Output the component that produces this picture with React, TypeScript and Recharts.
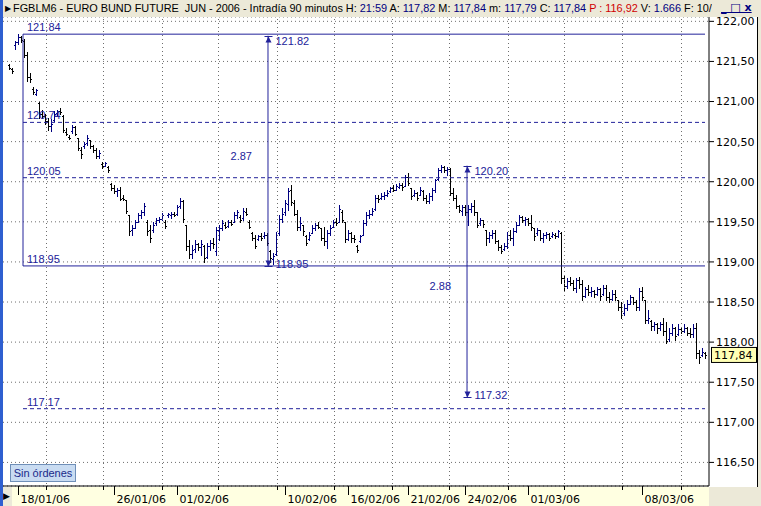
import React from 'react';
import {
  ComposedChart,
  Bar,
  XAxis,
  YAxis,
  CartesianGrid,
  ReferenceLine,
  ReferenceDot,
} from 'recharts';

type Ohlc = [number, number, number, number]; // open, high, low, close

// 90-minute bars, one array per labelled session block
const jan17: Ohlc[] = [
  [121.45, 121.47, 121.4, 121.42], [121.41, 121.42, 121.36, 121.38], [121.7, 121.76, 121.66, 121.74],
];
const jan18: Ohlc[] = [
  [121.74, 121.84, 121.72, 121.8], [121.8, 121.82, 121.74, 121.77], [121.76, 121.78, 121.55, 121.58],
  [121.58, 121.62, 121.26, 121.3], [121.3, 121.35, 121.24, 121.28], [121.16, 121.18, 121.09, 121.12],
  [121.1, 121.16, 121.08, 121.14], [120.98, 120.99, 120.8, 120.84], [120.84, 120.9, 120.79, 120.82],
  [120.82, 120.85, 120.72, 120.76], [120.76, 120.8, 120.65, 120.7], [120.7, 120.78, 120.63, 120.72],
  [120.77, 120.88, 120.76, 120.84], [120.86, 120.9, 120.83, 120.88], [120.88, 120.92, 120.85, 120.87],
  [120.82, 120.83, 120.62, 120.64], [120.62, 120.67, 120.58, 120.6], [120.56, 120.58, 120.53, 120.55],
  [120.63, 120.71, 120.61, 120.68], [120.68, 120.7, 120.58, 120.6], [120.54, 120.55, 120.4, 120.42],
  [120.4, 120.43, 120.3, 120.34], [120.44, 120.49, 120.42, 120.47], [120.48, 120.58, 120.46, 120.55],
  [120.52, 120.52, 120.42, 120.44], [120.44, 120.46, 120.37, 120.4], [120.4, 120.42, 120.3, 120.32],
  [120.32, 120.39, 120.29, 120.36], [120.22, 120.25, 120.17, 120.2], [120.2, 120.24, 120.19, 120.23],
  [120.18, 120.19, 120.12, 120.14], [119.97, 119.98, 119.9, 119.92],
];
const jan26: Ohlc[] = [
  [119.92, 119.96, 119.86, 119.88], [119.88, 119.92, 119.82, 119.9], [119.9, 119.93, 119.77, 119.79],
  [119.8, 119.83, 119.77, 119.78], [119.77, 119.77, 119.61, 119.64], [119.58, 119.58, 119.34, 119.38],
  [119.4, 119.46, 119.34, 119.42], [119.42, 119.52, 119.42, 119.5], [119.5, 119.61, 119.5, 119.58],
  [119.58, 119.65, 119.55, 119.62], [119.62, 119.74, 119.58, 119.7], [119.5, 119.52, 119.34, 119.38],
  [119.4, 119.46, 119.25, 119.3], [119.4, 119.5, 119.37, 119.46], [119.48, 119.55, 119.46, 119.52],
  [119.52, 119.56, 119.5, 119.54], [119.54, 119.61, 119.52, 119.58], [119.5, 119.52, 119.42, 119.45],
  [119.58, 119.61, 119.56, 119.6], [119.58, 119.62, 119.55, 119.6], [119.6, 119.62, 119.57, 119.59],
];
const feb01: Ohlc[] = [
  [119.6, 119.71, 119.58, 119.68], [119.7, 119.8, 119.67, 119.76], [119.76, 119.77, 119.5, 119.54],
  [119.46, 119.46, 119.15, 119.2], [119.2, 119.27, 119.05, 119.1], [119.1, 119.21, 119.05, 119.15],
  [119.16, 119.27, 119.12, 119.22], [119.22, 119.24, 119.15, 119.18], [119.18, 119.27, 119.09, 119.22],
  [119.2, 119.21, 119.0, 119.05], [119.06, 119.24, 119.05, 119.2], [119.2, 119.27, 119.15, 119.24],
  [119.24, 119.3, 119.17, 119.22], [119.14, 119.44, 119.09, 119.4], [119.4, 119.46, 119.27, 119.42],
  [119.42, 119.52, 119.4, 119.48], [119.46, 119.5, 119.42, 119.44], [119.45, 119.52, 119.44, 119.5],
  [119.5, 119.52, 119.46, 119.47], [119.5, 119.62, 119.5, 119.58], [119.58, 119.65, 119.55, 119.62],
  [119.56, 119.58, 119.5, 119.52], [119.55, 119.67, 119.52, 119.64], [119.62, 119.67, 119.58, 119.6],
  [119.5, 119.52, 119.42, 119.44], [119.36, 119.37, 119.27, 119.3], [119.3, 119.34, 119.17, 119.2],
  [119.28, 119.34, 119.27, 119.32], [119.32, 119.36, 119.27, 119.3], [119.32, 119.37, 119.3, 119.34],
  [119.34, 119.36, 119.21, 119.24], [119.14, 119.15, 119.0, 119.05], [119.04, 119.11, 118.98, 119.08],
  [119.1, 119.37, 119.09, 119.34], [119.36, 119.58, 119.34, 119.54], [119.54, 119.67, 119.5, 119.6],
];
const feb10: Ohlc[] = [
  [119.62, 119.77, 119.58, 119.74], [119.72, 119.92, 119.65, 119.88], [119.9, 119.96, 119.71, 119.75],
  [119.74, 119.77, 119.58, 119.6], [119.6, 119.65, 119.4, 119.44], [119.44, 119.56, 119.4, 119.48],
  [119.46, 119.46, 119.34, 119.38], [119.32, 119.34, 119.21, 119.24], [119.28, 119.37, 119.27, 119.34],
  [119.36, 119.46, 119.36, 119.42], [119.42, 119.48, 119.4, 119.46], [119.46, 119.5, 119.42, 119.44],
  [119.42, 119.42, 119.27, 119.3], [119.3, 119.44, 119.21, 119.26], [119.26, 119.4, 119.17, 119.36],
  [119.36, 119.46, 119.34, 119.42], [119.44, 119.52, 119.43, 119.5], [119.5, 119.55, 119.46, 119.48],
  [119.5, 119.71, 119.5, 119.66], [119.62, 119.65, 119.5, 119.52], [119.5, 119.5, 119.25, 119.28],
];
const feb16: Ohlc[] = [
  [119.28, 119.4, 119.27, 119.36], [119.36, 119.37, 119.25, 119.3], [119.3, 119.34, 119.25, 119.28],
  [119.2, 119.21, 119.12, 119.15], [119.26, 119.34, 119.25, 119.32], [119.34, 119.52, 119.34, 119.48],
  [119.48, 119.62, 119.46, 119.58], [119.58, 119.65, 119.55, 119.6], [119.6, 119.67, 119.58, 119.64],
  [119.66, 119.83, 119.65, 119.8], [119.8, 119.83, 119.75, 119.78], [119.8, 119.86, 119.79, 119.82],
  [119.82, 119.87, 119.79, 119.84], [119.84, 119.9, 119.82, 119.86], [119.88, 119.94, 119.87, 119.92],
  [119.92, 119.96, 119.89, 119.9], [119.9, 119.97, 119.9, 119.95], [119.94, 119.99, 119.92, 119.96],
  [119.96, 119.99, 119.9, 119.93], [119.95, 120.08, 119.95, 120.06],
];
const feb21: Ohlc[] = [
  [120.06, 120.11, 119.96, 119.98], [119.92, 119.92, 119.79, 119.82], [119.84, 119.9, 119.82, 119.86],
  [119.86, 119.87, 119.77, 119.8], [119.84, 119.93, 119.83, 119.9], [119.88, 119.9, 119.77, 119.8],
  [119.8, 119.83, 119.73, 119.76], [119.76, 119.86, 119.73, 119.82], [119.82, 119.92, 119.77, 119.9],
  [119.9, 120.04, 119.87, 120.02], [120.04, 120.17, 120.02, 120.14], [120.14, 120.21, 120.12, 120.18],
  [120.18, 120.19, 120.12, 120.15], [120.14, 120.18, 120.08, 120.16], [120.16, 120.17, 119.83, 119.86],
  [119.86, 119.92, 119.77, 119.8], [119.8, 119.83, 119.67, 119.7], [119.7, 119.71, 119.62, 119.65],
  [119.64, 119.71, 119.58, 119.68],
];
const feb24: Ohlc[] = [
  [119.68, 119.71, 119.58, 119.62], [119.62, 119.71, 119.46, 119.66], [119.66, 119.74, 119.62, 119.7],
  [119.7, 119.77, 119.58, 119.62], [119.62, 119.62, 119.43, 119.46], [119.48, 119.55, 119.46, 119.52],
  [119.52, 119.52, 119.44, 119.47], [119.4, 119.4, 119.21, 119.3], [119.3, 119.37, 119.25, 119.34],
  [119.34, 119.4, 119.3, 119.36], [119.36, 119.4, 119.23, 119.26], [119.26, 119.27, 119.15, 119.18],
  [119.18, 119.21, 119.11, 119.14], [119.16, 119.24, 119.15, 119.2], [119.2, 119.37, 119.17, 119.34],
  [119.34, 119.4, 119.27, 119.3], [119.3, 119.42, 119.21, 119.38], [119.38, 119.5, 119.37, 119.46],
  [119.46, 119.58, 119.46, 119.56], [119.56, 119.57, 119.5, 119.52], [119.52, 119.56, 119.46, 119.54],
];
const mar01: Ohlc[] = [
  [119.54, 119.55, 119.46, 119.48], [119.48, 119.58, 119.4, 119.44], [119.42, 119.42, 119.27, 119.32],
  [119.36, 119.42, 119.34, 119.4], [119.4, 119.4, 119.27, 119.3], [119.3, 119.36, 119.25, 119.33],
  [119.33, 119.37, 119.3, 119.35], [119.35, 119.36, 119.27, 119.3], [119.32, 119.37, 119.31, 119.35],
  [119.34, 119.36, 119.3, 119.32], [119.32, 119.4, 119.31, 119.38], [119.36, 119.37, 118.74, 118.8],
  [118.8, 118.84, 118.65, 118.7], [118.7, 118.8, 118.68, 118.76], [118.76, 118.81, 118.71, 118.74],
  [118.74, 118.78, 118.65, 118.68], [118.68, 118.8, 118.62, 118.78], [118.78, 118.81, 118.68, 118.72],
  [118.72, 118.78, 118.53, 118.58], [118.58, 118.69, 118.56, 118.66], [118.66, 118.71, 118.59, 118.62],
  [118.62, 118.69, 118.57, 118.64], [118.64, 118.65, 118.56, 118.6], [118.6, 118.69, 118.59, 118.66],
  [118.66, 118.68, 118.53, 118.58], [118.6, 118.71, 118.59, 118.68], [118.68, 118.71, 118.53, 118.56],
  [118.56, 118.62, 118.5, 118.54], [118.54, 118.65, 118.53, 118.6], [118.6, 118.65, 118.53, 118.56],
  [118.52, 118.53, 118.4, 118.44], [118.44, 118.5, 118.3, 118.34], [118.36, 118.47, 118.34, 118.42],
  [118.42, 118.53, 118.4, 118.48], [118.48, 118.59, 118.47, 118.56], [118.56, 118.56, 118.47, 118.5],
  [118.5, 118.53, 118.4, 118.44], [118.44, 118.68, 118.4, 118.64],
];
const mar08: Ohlc[] = [
  [118.64, 118.69, 118.53, 118.56], [118.52, 118.53, 118.24, 118.28], [118.28, 118.4, 118.24, 118.3],
  [118.26, 118.28, 118.15, 118.2], [118.2, 118.25, 118.15, 118.22], [118.22, 118.24, 118.11, 118.18],
  [118.18, 118.25, 118.15, 118.22], [118.22, 118.3, 118.09, 118.14], [118.14, 118.25, 117.99, 118.02],
  [118.04, 118.17, 118.02, 118.12], [118.12, 118.22, 118.09, 118.18], [118.18, 118.19, 118.03, 118.08],
  [118.1, 118.22, 118.09, 118.16], [118.16, 118.19, 118.11, 118.14], [118.14, 118.22, 118.13, 118.18],
  [118.18, 118.19, 118.09, 118.12], [118.12, 118.17, 118.06, 118.1], [118.1, 118.22, 118.06, 118.18],
  [118.18, 118.24, 117.8, 117.86], [117.86, 117.9, 117.74, 117.82], [117.84, 117.93, 117.83, 117.88],
  [117.86, 117.88, 117.8, 117.84],
];

const sessions = [jan17, jan18, jan26, feb01, feb10, feb16, feb21, feb24, mar01, mar08];
const sessionLabels = ['', '18/01/06', '26/01/06', '01/02/06', '10/02/06', '16/02/06', '21/02/06', '24/02/06', '01/03/06', '08/03/06'];

const priceTicks = [116.5, 117, 117.5, 118, 118.5, 119, 119.5, 120, 120.5, 121, 121.5, 122];
// dotted vertical grid, in bar-index units
const gridIdx = [12.5, 31.5, 51.17, 69.83, 89.5, 108.5, 127.83, 146.83, 166.5, 185.17, 204.5, 224.17];

// drawn study lines
const levelValues = [121.84, 120.74, 120.05, 118.95, 117.17];
const levelSolid = [true, false, false, true, false];
const boxStart = 4.67;
const boxEnd = 232;

const arrowIdx = [86.33, 152.67];
const arrowTop = [121.82, 120.2];
const arrowBottom = [118.95, 117.32];
const arrowDiff = ['2.87', '2.88'];

const NAVY = '#22229a';
const GRID = '#6e6e6e';
const X_DOMAIN: [number, number] = [-2, 233.33];
const Y_DOMAIN: [number, number] = [116.206, 122.054];

const bars = sessions.flat().map(([o, h, l, c], i) => ({ i, o, h, l, c, range: [l, h] }));
const sessionStarts = sessions.map((_, k) =>
  sessions.slice(0, k).reduce((s, a) => s + a.length, 0),
);
const dateTicks = sessionStarts.filter((_, k) => sessionLabels[k] !== '');
const labelByTick = new Map(sessionStarts.map((s, k) => [s, sessionLabels[k]]));
const allTicks = [...dateTicks, ...gridIdx].sort((a, b) => a - b);
const lastClose = bars[bars.length - 1].c;

const fmtComma = (v: number) => v.toFixed(2).replace('.', ',');

const OhlcBar = (props: any) => {
  const { x, y, width, height, payload } = props;
  if (x == null || y == null || !payload) return null;
  const cx = Math.round(x + width / 2) + 0.5;
  const top = Math.min(y, y + height);
  const span = Math.abs(height);
  const k = payload.h > payload.l ? span / (payload.h - payload.l) : 0;
  const yo = Math.round(top + (payload.h - payload.o) * k) + 0.5;
  const yc = Math.round(top + (payload.h - payload.c) * k) + 0.5;
  const color = payload.c >= payload.o ? '#000080' : '#000000';
  return (
    <g stroke={color} strokeWidth={1}>
      <line x1={cx} y1={Math.round(top)} x2={cx} y2={Math.round(top + Math.max(span, 1)) + 1} />
      <line x1={cx - 1.5} y1={yo} x2={cx} y2={yo} />
      <line x1={cx} y1={yc} x2={cx + 1.5} y2={yc} />
    </g>
  );
};

// vertical dotted grid line through a scaled x position: a column of 1px dots
const GridMark = (p: any) => {
  const px = Math.floor(p.cx);
  const top = Math.ceil(p.cy);
  const dots = [];
  for (let yy = top + 2; yy < 486; yy += 4) {
    dots.push(<rect key={yy} x={px} y={yy} width={1} height={1} fill={GRID} />);
  }
  return <g>{dots}</g>;
};

const DateTick = (props: any) => {
  const { x, y, payload } = props;
  const label = labelByTick.get(payload.value);
  const px = Math.floor(x) + 0.5;
  if (!label) {
    return <line x1={px} y1={y} x2={px} y2={y + 4} stroke="#000" />;
  }
  return (
    <g>
      <line x1={px} y1={y} x2={px} y2={y + 9} stroke="#000" />
      <text x={px + 2} y={y + 17} fontSize={11} fill="#000" fontFamily="DejaVu Sans">
        {label}
      </text>
    </g>
  );
};

const levelTag = (text: string) => (p: any) => (
  <text x={p.cx + 4} y={p.cy - 3} fontSize={11} fill={NAVY} fontFamily="Liberation Sans">
    {text}
  </text>
);

const arrowEnd = (up: boolean, text: string) => (p: any) => {
  const cx = Math.round(p.cx) + 0.5;
  const cy = Math.round(p.cy) + 0.5;
  const d = up ? 6 : -6;
  return (
    <g>
      <line x1={cx - 4} y1={cy} x2={cx + 4} y2={cy} stroke={NAVY} />
      <path d={`M${cx},${cy} L${cx - 3},${cy + d} L${cx + 3},${cy + d} Z`} fill={NAVY} />
      <text x={cx + 7} y={up ? cy + 8 : cy + 1} fontSize={11} fill={NAVY} fontFamily="Liberation Sans">
        {text}
      </text>
    </g>
  );
};

const diffTag = (text: string) => (p: any) => (
  <text x={p.cx - 16} y={p.cy + 9} textAnchor="end" fontSize={11} fill={NAVY} fontFamily="Liberation Sans">
    {text}
  </text>
);

const priceTag = (p: any) => (
  <g>
    <rect x={p.cx + 2.5} y={p.cy - 7.5} width={45} height={15} fill="#ffffb4" stroke="#000" />
    <text x={p.cx + 5} y={p.cy + 4} fontSize={11} fill="#000" fontFamily="DejaVu Sans">
      {fmtComma(lastClose)}
    </text>
  </g>
);

const titleParts: [string, string][] = [
  ['FGBLM6 - EURO BUND FUTURE  JUN - 2006 - Intradía 90 minutos H: ', '#000'],
  ['21:59', '#000080'],
  [' A: ', '#000'],
  ['117,82', '#000080'],
  [' M: ', '#000'],
  ['117,84', '#000080'],
  [' m: ', '#000'],
  ['117,79', '#000080'],
  [' C: ', '#000'],
  ['117,84', '#000080'],
  [' P : 116,92', '#d00000'],
  [' V: ', '#000'],
  ['1.666', '#000080'],
  [' F: 10/', '#000'],
];

export default function App() {
  return (
    <div
      style={{
        position: 'absolute',
        left: 0,
        top: 0,
        width: 761,
        height: 506,
        overflow: 'hidden',
        background: '#ece9d8',
        fontFamily: '"DejaVu Sans", sans-serif',
      }}
    >
      <div style={{ position: 'absolute', left: 3, top: 17, width: 754, height: 470, background: '#fff' }} />
      <div style={{ position: 'absolute', left: 757, top: 17, width: 1, height: 470, background: '#000' }} />
      <div style={{ position: 'absolute', left: 12, top: 487, width: 697, height: 19, background: '#ffffe1' }} />
      <div
        style={{
          position: 'absolute',
          left: 3,
          top: 489,
          width: 8,
          height: 14,
          fontSize: 9,
          lineHeight: '14px',
          color: '#000',
        }}
      >
        ▶
      </div>

      <div style={{ position: 'absolute', left: 0, top: 0 }}>
        <ComposedChart
          width={761}
          height={506}
          data={bars}
          margin={{ top: 17, right: 4, bottom: 0, left: 3 }}
        >
          <CartesianGrid vertical={false} stroke={GRID} strokeDasharray="1 3" />
          {gridIdx.map((g) => (
            <ReferenceDot key={`g${g}`} x={g} y={Y_DOMAIN[1]} r={1} ifOverflow="visible" shape={GridMark} />
          ))}
          <XAxis
            type="number"
            dataKey="i"
            domain={X_DOMAIN}
            allowDataOverflow
            ticks={allTicks}
            interval={0}
            tickSize={0}
            tickMargin={0}
            tickLine={false}
            tick={<DateTick />}
            height={20}
            axisLine={{ stroke: '#000' }}
          />
          <YAxis
            orientation="right"
            type="number"
            domain={Y_DOMAIN}
            allowDataOverflow
            ticks={priceTicks}
            interval={0}
            width={48}
            tickSize={5}
            tickMargin={2}
            tickFormatter={fmtComma}
            tick={{ fill: '#000', fontSize: 11, fontFamily: 'DejaVu Sans' }}
            tickLine={{ stroke: '#000' }}
            axisLine={{ stroke: '#000' }}
          />
          <Bar dataKey="range" barSize={3} shape={<OhlcBar />} isAnimationActive={false} />

          {levelValues.map((v, k) => (
            <ReferenceLine
              key={`lv${v}`}
              segment={[
                { x: boxStart, y: v },
                { x: boxEnd, y: v },
              ]}
              stroke={NAVY}
              strokeDasharray={levelSolid[k] ? undefined : '4 3'}
            />
          ))}
          <ReferenceLine
            segment={[
              { x: boxStart, y: levelValues[0] },
              { x: boxStart, y: levelValues[3] },
            ]}
            stroke={NAVY}
          />
          {levelValues.map((v) => (
            <ReferenceDot key={`lt${v}`} x={boxStart} y={v} r={1} shape={levelTag(v.toFixed(2))} />
          ))}

          {arrowIdx.map((a, k) => (
            <ReferenceLine
              key={`ar${k}`}
              segment={[
                { x: a, y: arrowTop[k] },
                { x: a, y: arrowBottom[k] },
              ]}
              stroke={NAVY}
            />
          ))}
          {arrowIdx.map((a, k) => (
            <ReferenceDot key={`at${k}`} x={a} y={arrowTop[k]} r={1} shape={arrowEnd(true, arrowTop[k].toFixed(2))} />
          ))}
          {arrowIdx.map((a, k) => (
            <ReferenceDot
              key={`ab${k}`}
              x={a}
              y={arrowBottom[k]}
              r={1}
              shape={arrowEnd(false, arrowBottom[k].toFixed(2))}
            />
          ))}
          {arrowIdx.map((a, k) => (
            <ReferenceDot
              key={`ad${k}`}
              x={a}
              y={(arrowTop[k] + arrowBottom[k]) / 2}
              r={1}
              shape={diffTag(arrowDiff[k])}
            />
          ))}
          <ReferenceDot x={X_DOMAIN[1]} y={lastClose} r={1} ifOverflow="visible" shape={priceTag} />
        </ComposedChart>
      </div>

      <div style={{ position: 'absolute', left: 0, top: 0, width: 3, height: 506, background: '#2f5fd0' }} />

      <div
        style={{
          position: 'absolute',
          left: 3,
          top: 0,
          width: 758,
          height: 17,
          background: '#ece9d8',
          whiteSpace: 'nowrap',
          overflow: 'hidden',
        }}
      >
        <span style={{ position: 'absolute', left: 2, top: 1, fontSize: 8, lineHeight: '15px' }}>▶</span>
        <div
          style={{
            position: 'absolute',
            left: 10,
            top: 0,
            width: 699,
            overflow: 'hidden',
            fontFamily: '"Liberation Sans", sans-serif',
            fontSize: 10.9,
            lineHeight: '17px',
          }}
        >
          {titleParts.map(([t, c], k) => (
            <span key={k} style={{ color: c, whiteSpace: 'pre' }}>
              {t}
            </span>
          ))}
        </div>
        <div
          style={{
            position: 'absolute',
            left: 718,
            top: 0,
            fontSize: 11,
            lineHeight: '16px',
            color: '#000080',
            fontWeight: 'bold',
            textDecoration: 'underline',
            whiteSpace: 'pre',
          }}
        >
          {'_ □ x'}
        </div>
      </div>

      <div
        style={{
          position: 'absolute',
          left: 10,
          top: 464,
          width: 64,
          height: 16,
          background: '#c9dcf2',
          border: '1px solid #6f8fb8',
          color: '#1a2a8a',
          fontFamily: '"Liberation Sans", sans-serif',
          fontSize: 11,
          lineHeight: '16px',
          textAlign: 'center',
        }}
      >
        Sin órdenes
      </div>
    </div>
  );
}
